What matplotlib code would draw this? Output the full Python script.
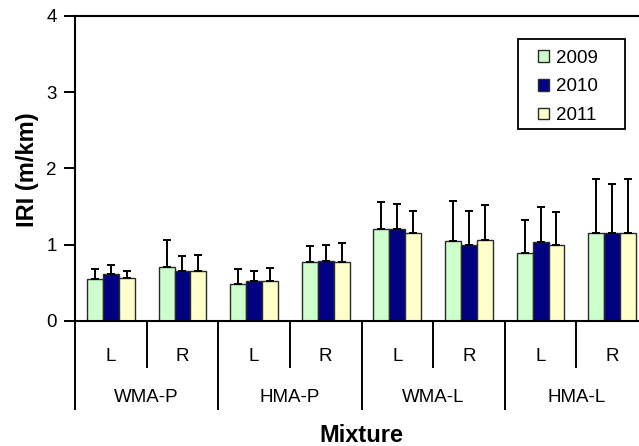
import matplotlib
matplotlib.use("Agg")
import matplotlib.pyplot as plt
from matplotlib.patches import Rectangle
import numpy as np

plt.rcParams['font.family'] = ['Liberation Sans', 'DejaVu Sans']

mixtures = ["WMA-P", "HMA-P", "WMA-L", "HMA-L"]
sides = ["L", "R"]
years = ["2009", "2010", "2011"]

iri_2009 = [0.55, 0.71, 0.49, 0.77, 1.20, 1.05, 0.89, 1.15]
iri_2010 = [0.61, 0.66, 0.53, 0.79, 1.21, 0.99, 1.03, 1.15]
iri_2011 = [0.57, 0.65, 0.53, 0.77, 1.15, 1.06, 0.99, 1.15]

sd_2009 = [0.13, 0.35, 0.19, 0.21, 0.36, 0.52, 0.44, 0.71]
sd_2010 = [0.12, 0.19, 0.13, 0.21, 0.32, 0.45, 0.47, 0.65]
sd_2011 = [0.09, 0.22, 0.16, 0.25, 0.29, 0.46, 0.44, 0.71]

colors = ["#CCFFCC", "#000080", "#FFFFCC"]

means = [iri_2009, iri_2010, iri_2011]
sds = [sd_2009, sd_2010, sd_2011]

fig = plt.figure(figsize=(6.39, 4.46), dpi=100)
ax = fig.add_axes([0.1174, 0.2803, 0.8967, 0.6839])

n = len(mixtures) * len(sides)
x = np.arange(n) + 0.5
width = 0.222

for j, (m, s, c, yr) in enumerate(zip(means, sds, colors, years)):
    pos = x + (j - 1) * width
    ax.bar(pos, m, width, color=c, edgecolor="#2a2a2a", linewidth=1.0,
           label=yr, zorder=2)
    ax.errorbar(pos, m, yerr=[np.zeros(n), s], fmt="none", ecolor="black",
                elinewidth=1.4, capsize=3, capthick=1.4, zorder=3)

ax.set_xlim(0, n)
ax.set_ylim(0, 4)
ax.set_yticks([0, 1, 2, 3, 4])
ax.tick_params(axis="y", length=8, width=1.4, labelsize=13.5, pad=5)
ax.set_xticks([])
for sp in ax.spines.values():
    sp.set_linewidth(1.5)
    sp.set_color("black")

ax.set_ylabel("IRI (m/km)", fontsize=17, fontweight="bold")
ax.yaxis.set_label_coords(-0.063, 0.495)

# two-level category axis
trans = ax.get_xaxis_transform()
for k in range(n + 1):
    bottom = -0.2885 if k % 2 == 0 else -0.151
    ax.plot([k, k], [0, bottom], color="black", lw=1.4,
            transform=trans, clip_on=False)
for i in range(n):
    ax.text(i + 0.5, -0.115, sides[i % 2], transform=trans,
            ha="center", va="center", fontsize=13.5)
for i, mx in enumerate(mixtures):
    ax.text(2 * i + 1, -0.252, mx, transform=trans,
            ha="center", va="center", fontsize=13.5)
ax.text(0.5 * (75 + 648) / 639, 1 - 435 / 446, "Mixture",
        transform=fig.transFigure, ha="center", va="center",
        fontsize=17, fontweight="bold")

# legend with its own box
ax.add_patch(Rectangle((0.773, 0.6295), 0.187, 0.295, transform=ax.transAxes,
                       facecolor="white", edgecolor="black", linewidth=1.3,
                       zorder=4, clip_on=False))
leg = ax.legend(loc="upper left", bbox_to_anchor=(0.808, 0.889),
                fontsize=13.5, frameon=False,
                handlelength=0.6, handleheight=0.6, handletextpad=0.35,
                labelspacing=0.62, borderpad=0, borderaxespad=0)
leg.set_zorder(5)

fig.savefig("out.png", dpi=100)
